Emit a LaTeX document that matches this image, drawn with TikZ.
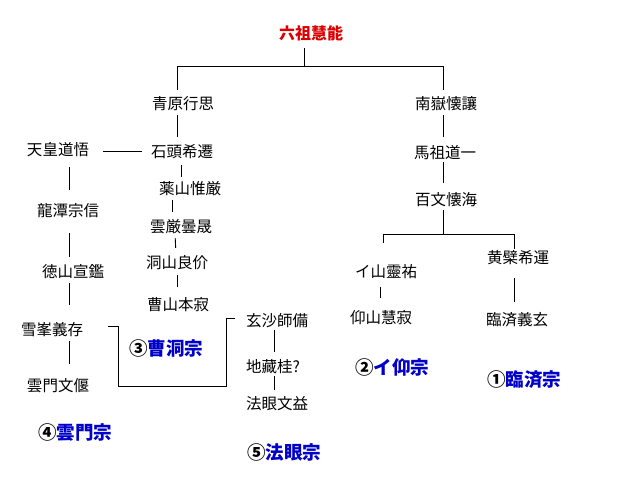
\documentclass[tikz,border=0pt]{standalone}
\usepackage{fontspec}
\setmainfont{Noto Sans CJK JP}
\usepackage{xcolor}
\usetikzlibrary{positioning}
\definecolor{rootred}{RGB}{220,0,0}
\definecolor{sectblue}{RGB}{0,0,200}

\begin{document}
\begin{tikzpicture}[x=1pt, y=-1pt,
    monk/.style={inner sep=0pt, text height=13pt, text depth=1pt, font=\fontsize{15.5}{16}\selectfont},
    sect/.style={inner sep=0pt, font=\fontsize{18.5}{20}\selectfont\bfseries},
    link/.style={draw=black, line width=0.9pt}]
    \useasboundingbox[fill=white] (0,0) rectangle (623,490);

    % Sixth patriarch
    \node[monk, text=rootred, font=\fontsize{16}{17}\selectfont\bfseries] (root) at (311,33) {六祖慧能};

    % Seigen line
    \node[monk] (qy) at (183,103) {青原行思};
    \node[monk] (sekito) at (182,151) {石頭希遷};
    \node[monk] (yakusan) at (190,188) {薬山惟厳};
    \node[monk] (ungan) at (181,226) {雲厳曇晟};
    \node[monk] (tozan) at (177,262) {洞山良价};
    \node[monk] (sozan) at (178,304) {曹山本寂};
    \node[monk] (tenno) at (58,149) {天皇道悟};
    \node[monk] (ryutan) at (68,210) {龍潭宗信};
    \node[monk] (tokusan) at (73,271) {徳山宣鑑};
    \node[monk] (seppo) at (52,329) {雪峯義存};
    \node[monk] (unmon) at (58,385) {雲門文偃};
    \node[monk] (gensha) at (277,320) {玄沙師備};
    \node[monk] (jizo) at (273,366) {地藏桂?};
    \node[monk] (hogen) at (277,403) {法眼文益};

    % Nangaku line
    \node[monk] (ny) at (446,103) {南嶽懐讓};
    \node[monk] (baso) at (445,152) {馬祖道一};
    \node[monk] (hyakujo) at (446,199) {百文懐海};
    \node[monk] (isan) at (386,271) {イ山靈祐};
    \node[monk] (kyozan) at (381,317) {仰山慧寂};
    \node[monk] (obaku) at (518,257) {黄檗希運};
    \node[monk] (rinzai) at (517,319) {臨済義玄};

    % Five houses
    \node[sect] (s1) at (524,380) {①\textcolor{sectblue}{臨済宗}};
    \node[sect] (s2) at (392,367) {②\textcolor{sectblue}{イ仰宗}};
    \node[sect] (s3) at (166,348) {③\textcolor{sectblue}{曹洞宗}};
    \node[sect] (s4) at (75,432) {④\textcolor{sectblue}{雲門宗}};
    \node[sect] (s5) at (284,452) {⑤\textcolor{sectblue}{法眼宗}};

    % Top fork
    \coordinate (fork) at (304,66);
    \draw[link, shorten <=8pt] ([xshift=-7pt]root.south) -- (fork);
    \draw[link, shorten >=6pt] (fork) -| ([xshift=-6pt]qy.north);
    \draw[link, shorten >=6pt] (fork) -| ([xshift=-3pt]ny.north);

    % Seigen branch
    \draw[link, shorten <=5pt, shorten >=7pt] ([xshift=-6pt]qy.south) -- ([xshift=-5pt]sekito.north);
    \draw[link, shorten <=9pt, shorten >=14pt] (sekito.west) -- (sekito.west -| tenno.east);
    \draw[link, shorten <=7pt, shorten >=4pt] ([xshift=-1pt]sekito.south) -- ([xshift=-9pt]yakusan.north);
    \draw[link, shorten <=5pt, shorten >=7pt] ([xshift=-18pt]yakusan.south) -- ([xshift=-9pt]ungan.north);
    \draw[link, shorten <=5pt, shorten >=7pt] ([xshift=-6pt]ungan.south) -- ([xshift=-1pt]tozan.north);
    \draw[link, shorten <=6pt, shorten >=10pt] (tozan.south) -- ([xshift=-1pt]sozan.north);
    \draw[link, shorten <=11pt, shorten >=13pt] ([xshift=11pt]tenno.south) -- ([xshift=1pt]ryutan.north);
    \draw[link, shorten <=16pt, shorten >=7pt] ([xshift=1pt]ryutan.south) -- ([xshift=-4pt]tokusan.north);
    \draw[link, shorten <=5pt, shorten >=17pt] ([xshift=-4pt]tokusan.south) -- ([xshift=17pt]seppo.north);
    \draw[link, shorten <=5pt, shorten >=14pt] ([xshift=17pt]seppo.south) -- ([xshift=11pt]unmon.north);
    \draw[link, shorten <=25pt, shorten >=11pt] ([yshift=3pt]seppo.east) -- ++(35,0) -- ++(0,60) -- ++(108,0) |- ([yshift=2pt]gensha.west);
    \draw[link, shorten <=3pt, shorten >=7pt] ([xshift=-3pt]gensha.south) -- ([xshift=1pt]jizo.north);
    \draw[link, shorten <=3pt, shorten >=6pt] ([xshift=1pt]jizo.south) -- ([xshift=-3pt]hogen.north);

    % Nangaku branch
    \draw[link, shorten <=5pt, shorten >=8pt] ([xshift=-3pt]ny.south) -- ([xshift=-2pt]baso.north);
    \draw[link, shorten <=3pt, shorten >=9pt] ([xshift=-2pt]baso.south) -- ([xshift=-3pt]hyakujo.north);
    \coordinate (mid) at (443,234);
    \draw[link, shorten <=4pt] ([xshift=-3pt]hyakujo.south) -- (mid);
    \draw[link, shorten >=21pt] (mid) -| ([xshift=-3pt]isan.north);
    \draw[link, shorten >=1pt] (mid) -| ([xshift=-4pt]obaku.north);
    \draw[link, shorten <=9pt, shorten >=12pt] ([xshift=-6pt]isan.south) -- ([xshift=-1pt]kyozan.north);
    \draw[link, shorten <=14pt, shorten >=10pt] ([xshift=-4pt]obaku.south) -- ([xshift=-3pt]rinzai.north);
\end{tikzpicture}
\end{document}
